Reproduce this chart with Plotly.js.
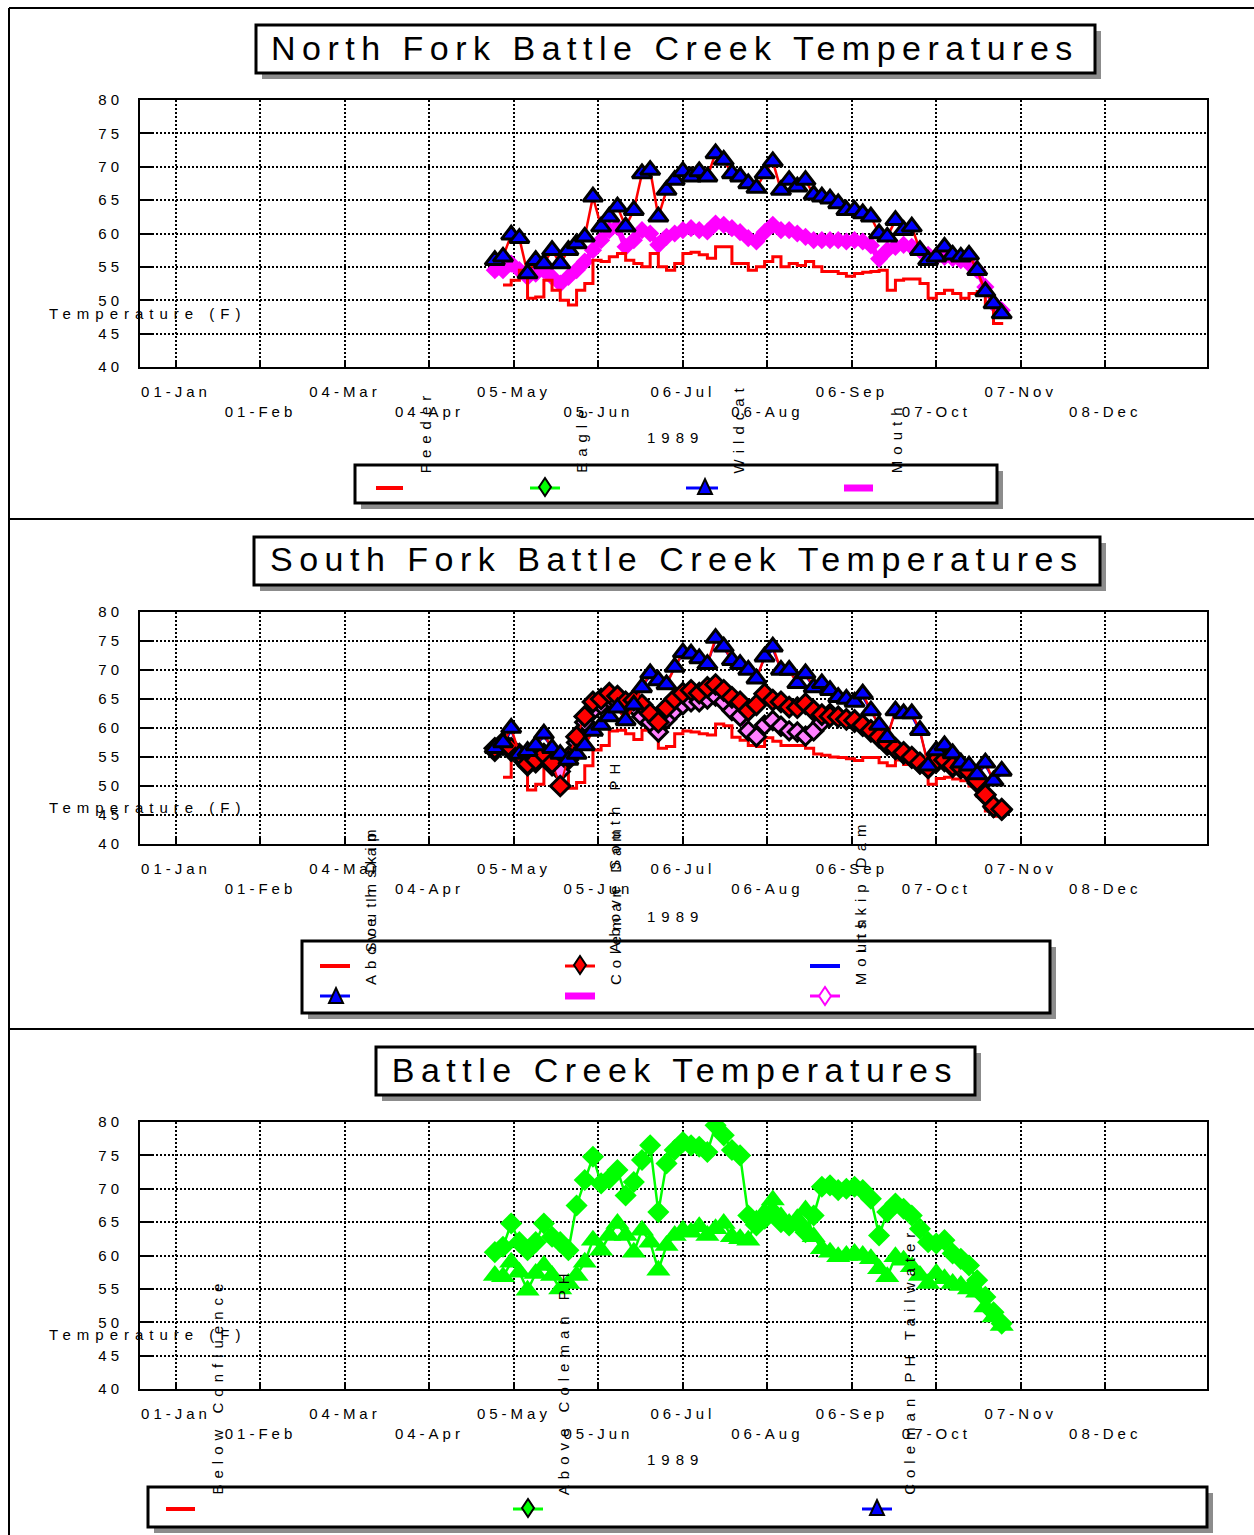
<!DOCTYPE html>
<html><head><meta charset="utf-8">
<script src="https://cdn.plot.ly/plotly-3.0.1.min.js"></script>
<style>html,body{margin:0;padding:0;background:#fff;}#chart{width:1254px;height:1535px;}</style>
</head><body><div id="chart"></div>
<script>
// ---------- DATA (1989, readings every 3 days) ----------
const dates = ["04-28","05-01","05-04","05-07","05-10","05-13","05-16","05-19","05-22","05-25","05-28","05-31",
"06-03","06-06","06-09","06-12","06-15","06-18","06-21","06-24","06-27","06-30","07-03","07-06","07-09","07-12",
"07-15","07-18","07-21","07-24","07-27","07-30","08-02","08-05","08-08","08-11","08-14","08-17","08-20","08-23",
"08-26","08-29","09-01","09-04","09-07","09-10","09-13","09-16","09-19","09-22","09-25","09-28","10-01","10-04",
"10-07","10-10","10-13","10-16","10-19","10-22","10-25","10-28","10-31"].map(d => "1989-" + d);

// North Fork
const nfFeeder = [null,52.3,53.0,54.5,50.3,50.5,53.0,51.5,50.0,49.3,51.5,52.5,56.0,55.8,56.5,57.0,56.0,55.5,55.0,57.0,55.0,54.5,55.5,57.0,57.2,56.8,56.3,58.0,58.0,55.5,55.5,54.5,55.0,55.8,56.5,55.0,55.5,55.2,55.8,55.0,54.3,54.3,54.0,53.6,54.0,54.2,54.3,54.5,51.5,53.0,53.2,53.2,52.5,50.3,51.0,51.5,51.0,50.3,51.0,51.3,49.2,46.5,46.3];
const nfEagle = [54.0,54.0,55.0,54.0,53.0,53.5,54.0,53.0,52.5,54.5,54.5,55.5,57.0,58.5,60.0,60.5,57.5,58.5,60.0,59.5,58.5,59.0,59.5,60.0,60.3,60.0,59.8,61.0,60.8,60.3,59.8,59.0,58.5,59.8,60.8,60.0,60.0,59.5,59.0,58.5,58.5,58.5,58.5,58.3,58.5,58.3,57.8,56.0,57.0,57.5,57.8,57.5,57.0,56.3,56.0,56.0,55.8,55.5,55.0,54.0,51.5,49.0,48.0];
const nfWildcat = [56.0,56.5,59.8,59.3,54.0,56.0,55.5,57.5,55.5,57.5,58.5,59.5,65.5,61.0,62.5,64.0,61.0,63.5,69.0,69.5,62.5,66.5,68.0,69.3,68.5,69.3,68.5,72.0,71.0,69.0,68.5,67.5,66.8,69.0,70.8,66.5,68.0,67.0,68.0,65.8,65.5,65.2,64.5,63.5,63.5,63.0,62.5,60.0,59.5,62.0,60.5,61.0,57.5,56.0,56.5,58.0,56.8,56.5,56.8,54.5,51.3,49.5,48.0];
const nfMouth = [54.5,54.5,55.5,54.5,53.5,54.0,54.5,53.5,52.5,53.5,54.5,55.8,57.5,59.0,60.5,61.0,58.0,59.0,60.5,60.0,58.3,59.5,60.0,60.5,60.8,60.5,60.3,61.5,61.3,60.8,60.2,59.3,58.8,60.2,61.3,60.5,60.5,60.0,59.5,59.0,59.0,59.0,59.0,58.8,59.0,58.8,58.2,56.2,57.5,58.0,58.3,58.0,57.5,56.8,56.5,56.5,56.3,56.0,55.5,54.5,52.0,49.5,48.5];

// South Fork
const sfAboveInskip = [null,51.5,54.5,54.6,49.3,50.3,53.0,52.3,52.0,49.6,50.6,53.5,56.2,57.0,59.5,59.6,59.0,58.0,59.6,59.8,56.5,56.8,59.0,59.5,59.3,59.0,58.8,60.7,60.4,58.4,57.9,57.0,56.8,58.3,57.7,57.0,57.0,57.0,56.5,55.5,55.3,55.0,54.9,54.7,54.4,54.9,54.9,54.0,53.5,54.5,53.7,53.5,53.3,50.3,51.3,51.5,51.2,50.9,50.0,48.2,45.7,44.8,44.6];
const sfColemanDam = [56.5,57.5,56.5,55.5,53.8,54.5,55.5,54.0,50.0,55.0,58.5,62.0,64.5,65.0,66.0,65.5,64.5,64.8,64.0,62.5,61.0,63.5,65.0,66.0,66.5,66.0,67.0,67.5,66.5,65.3,64.5,63.0,64.0,65.9,64.8,64.5,63.6,63.5,64.2,63.0,62.3,62.0,61.9,61.5,61.3,60.5,59.6,58.5,57.3,56.5,55.8,55.0,54.0,53.2,54.4,54.5,53.5,53.2,52.5,50.9,48.5,46.5,46.0];
const sfMouth = [56.0,57.0,59.5,55.8,56.3,57.0,58.5,56.5,55.8,54.8,55.8,57.3,59.8,60.8,62.0,63.3,61.5,64.3,67.0,69.0,68.0,67.8,70.3,72.8,72.5,71.8,71.0,75.0,73.8,71.5,70.8,69.8,68.8,72.0,73.5,70.0,69.8,68.0,69.0,67.0,67.5,66.3,65.3,64.8,64.5,65.3,62.8,60.5,58.8,62.8,62.3,62.0,59.3,54.0,56.0,56.8,55.5,54.0,53.5,52.0,53.5,51.0,52.0];
const sfSouthDam = [56.5,57.5,60.0,55.5,56.0,57.0,59.0,56.5,55.5,54.5,55.5,57.0,59.5,60.5,62.0,63.5,61.3,64.0,67.0,69.4,68.2,67.5,70.5,73.0,72.8,72.0,71.0,75.5,74.0,71.7,71.0,70.0,68.5,72.3,74.0,70.0,70.0,67.7,69.4,67.0,67.7,66.5,65.3,65.0,64.5,65.9,63.0,60.5,58.4,63.0,62.5,62.5,59.6,53.5,56.1,57.0,55.6,54.0,53.5,52.0,54.0,50.9,52.6];
const sfAboveSouthPH = [55.8,56.8,55.8,54.8,53.3,53.8,54.8,53.3,52.3,54.3,57.3,60.8,62.8,63.8,64.8,64.3,63.3,63.6,61.8,60.8,59.5,61.3,62.8,63.8,64.3,64.3,64.8,65.3,64.3,62.8,61.8,59.3,58.5,60.3,61.0,60.0,59.3,59.0,58.5,59.3,60.8,62.3,61.8,61.3,60.8,60.0,59.0,58.0,56.8,56.0,55.3,54.5,53.5,52.8,53.8,54.0,53.0,52.8,52.0,50.3,48.0,46.0,45.5];
const sfInskipDam = [56.0,57.0,56.0,55.0,53.5,54.0,55.0,53.5,52.5,54.5,57.5,61.0,63.0,64.0,65.0,64.5,63.5,63.8,62.0,61.0,59.3,61.5,63.0,64.0,64.5,64.5,65.0,65.5,64.5,63.0,62.0,59.5,58.5,60.5,61.3,60.3,59.5,59.3,58.6,59.5,61.0,62.5,62.0,61.5,61.0,60.3,59.3,58.3,57.0,56.3,55.5,54.8,53.8,53.0,54.0,54.2,53.2,53.0,52.3,50.5,48.3,46.3,45.8];

// Main stem
const bcAboveColemanPH = [60.5,61.3,64.8,62.0,60.8,62.0,64.8,62.8,62.0,60.8,67.5,71.3,74.8,70.8,71.5,72.8,69.0,71.0,74.3,76.5,66.5,73.8,75.8,77.0,76.5,76.3,75.5,79.5,78.0,75.8,75.0,66.0,64.5,65.5,66.5,65.0,64.5,65.0,63.5,66.0,70.3,70.5,69.8,70.0,70.3,69.8,68.5,63.0,66.5,67.8,67.0,66.0,64.0,62.0,61.8,62.3,60.3,59.5,58.5,56.3,53.8,51.5,49.8];
const bcTailwater = [57.0,56.8,59.0,57.5,54.8,57.3,58.5,57.0,55.0,55.8,57.0,59.0,62.3,60.8,63.0,64.8,63.0,60.5,63.8,62.0,57.8,61.5,63.0,63.8,63.5,64.3,63.0,64.0,64.8,62.8,62.5,62.3,65.3,66.5,68.3,65.8,64.8,65.5,66.8,62.8,61.0,60.5,59.8,60.0,60.3,60.0,59.5,58.0,56.8,59.8,59.3,58.3,57.0,55.8,57.3,56.5,55.8,55.5,55.0,54.5,52.3,50.8,49.5];

// Axis tick labels and texts
const tickDates = ["1989-01-01","1989-02-01","1989-03-04","1989-04-04","1989-05-05","1989-06-05","1989-07-06","1989-08-06","1989-09-06","1989-10-07","1989-11-07","1989-12-08"];
const tickLabels = ["01-Jan","01-Feb","04-Mar","04-Apr","05-May","05-Jun","06-Jul","06-Aug","06-Sep","07-Oct","07-Nov","08-Dec"];
const titles = ["North Fork Battle Creek Temperatures","South Fork Battle Creek Temperatures","Battle Creek Temperatures"];
const nfNames = ["Feeder","Eagle","Wildcat","Mouth"];
const sfNames = ["Above Inskip","South Dam","Coleman Dam","Above South PH","Mouth","Inskip Dam"];
const bcNames = ["Below Confluence","Above Coleman PH","Coleman PH Tailwater"];

// ---------- LAYOUT HELPERS ----------
const W = 1254, H = 1535;
const X = p => p / W, Y = p => 1 - p / H;
const FONT = "Liberation Sans, Arial, Helvetica, sans-serif";
const RED = "#ff0000", GREEN = "#00ff00", BLUE = "#0000ff", MAG = "#ff00ff";
const PL = 140, PR = 1207;
const panels = [{top:100,bottom:367},{top:612,bottom:844},{top:1122,bottom:1389}];

const layout = {
  width: W, height: H, margin: {l:0,r:0,t:0,b:0},
  paper_bgcolor: "#fff", plot_bgcolor: "#fff", showlegend: false,
  font: {family: FONT, color: "#000", size: 15},
  shapes: [], annotations: []
};
panels.forEach((p, i) => {
  const s = i === 0 ? "" : String(i + 1);
  layout["xaxis" + s] = {
    type: "date", range: ["1988-12-18 19:00", "1990-01-14 08:00"],
    domain: [X(PL), X(PR)], anchor: "y" + s,
    tickmode: "array", tickvals: tickDates,
    ticktext: tickLabels.map((t, k) => k % 2 ? "<br>" + t : t),
    tickfont: {family: FONT, size: 15, color: "#000"},
    ticks: "inside", ticklen: 6, tickwidth: 2, tickcolor: "#000",
    showgrid: true, gridcolor: "#000", gridwidth: 2, griddash: "2px,2px",
    showline: true, linecolor: "#000", linewidth: 2, mirror: true,
    zeroline: false, ticklabelstandoff: 10, fixedrange: true
  };
  layout["yaxis" + s] = {
    range: [40, 80], tick0: 40, dtick: 5,
    domain: [Y(p.bottom), Y(p.top)], anchor: "x" + s,
    tickfont: {family: FONT, size: 15, color: "#000"},
    ticks: "inside", ticklen: 12, tickwidth: 2, tickcolor: "#000",
    showgrid: true, gridcolor: "#000", gridwidth: 2, griddash: "2px,2px",
    showline: true, linecolor: "#000", linewidth: 2, mirror: true,
    zeroline: false, ticklabelstandoff: 12, fixedrange: true
  };
});

const shp = layout.shapes, ann = layout.annotations;
const line = (x0,y0,x1,y1,color,width) => shp.push({type:"line",xref:"paper",yref:"paper",x0:X(x0),y0:Y(y0),x1:X(x1),y1:Y(y1),line:{color,width}});
const rect = (x0,y0,x1,y1,fill,lc,lw) => shp.push({type:"rect",xref:"paper",yref:"paper",x0:X(x0),y0:Y(y0),x1:X(x1),y1:Y(y1),fillcolor:fill,line:{color:lc||fill,width:lw||0}});
const poly = (pts,fill,lc,lw) => shp.push({type:"path",xref:"paper",yref:"paper",path:"M "+pts.map(q=>X(q[0])+","+Y(q[1])).join(" L ")+" Z",fillcolor:fill,line:{color:lc,width:lw}});
const diamond = (cx,cy,fill,lc) => poly([[cx-6,cy],[cx,cy-9],[cx+6,cy],[cx,cy+9]],fill,lc,2);
const tri = (cx,cy) => poly([[cx-7,cy+7],[cx+7,cy+7],[cx,cy-8]],BLUE,"#000",2);
const boxShadow = (x0,y0,x1,y1) => { rect(x0+6,y0+6,x1+6,y1+6,"#8c8c8c"); rect(x0,y0,x1,y1,"#fff","#000",3); };
const text = (t,x,y,size,extra) => ann.push(Object.assign({text:t,xref:"paper",yref:"paper",x:X(x),y:Y(y),showarrow:false,xanchor:"center",yanchor:"middle",font:{family:FONT,size:size,color:"#000"}},extra||{}));

const cv = document.createElement("canvas").getContext("2d");
const textLen = (s, size, ls) => { cv.font = size + "px 'Liberation Sans', Arial"; return cv.measureText(s).width + ls * s.length; };
const vlabel = (t,x,bottom) => text(t, x, bottom - textLen(t,15,6)/2, 15, {textangle:-90});

// frame
line(9,8,1254,8,"#000",2); line(9,8,9,1535,"#000",2);
line(9,519,1254,519,"#000",2); line(9,1029,1254,1029,"#000",2);

// titles
boxShadow(256,25,1095,73); text(titles[0],675,48,34);
boxShadow(254,537,1100,585); text(titles[1],677,559,34);
boxShadow(376,1047,975,1095); text(titles[2],675,1070,34);

// axis captions
[[313,437],[807,916],[1334,1459]].forEach(a => { text("Temperature (F)",148,a[0],15); text("1989",675,a[1],15); });

// legend 1
boxShadow(355,465,997,503);
line(376,488,403,488,RED,4);
line(530,488,560,488,GREEN,3); diamond(545,487,GREEN,"#000");
line(686,488,718,488,BLUE,3); tri(705,487);
line(844,488,873,488,MAG,7);
[[425,0],[582,1],[738,2],[896,3]].forEach(a => vlabel(nfNames[a[1]],a[0],473));

// legend 2
boxShadow(302,941,1050,1013);
line(320,966,350,966,RED,4);
line(565,966,595,966,RED,3); diamond(580,965,RED,"#000");
line(810,966,840,966,BLUE,4);
line(320,996,350,996,BLUE,3); tri(336,996);
line(565,996,595,996,MAG,7);
line(810,996,840,996,MAG,3); diamond(825,996,"#fff",MAG);
vlabel(sfNames[0],370,985); vlabel(sfNames[1],370,953);
vlabel(sfNames[2],615,985); vlabel(sfNames[3],615,953);
vlabel(sfNames[4],860,985); vlabel(sfNames[5],860,953);

// legend 3
boxShadow(148,1487,1207,1527);
line(166,1509,195,1509,RED,4);
line(513,1509,543,1509,GREEN,3); diamond(528,1508,GREEN,"#000");
line(862,1509,892,1509,BLUE,3); tri(877,1508);
vlabel(bcNames[0],218,1495); vlabel(bcNames[1],563,1495); vlabel(bcNames[2],910,1495);

// ---------- TRACES ----------
const tr = (y, ax, o) => Object.assign({x: dates, y: y, xaxis: "x" + ax, yaxis: "y" + ax, type: "scatter", hoverinfo: "skip"}, o);
const triBlue = {symbol:"triangle-up", size:17, color:BLUE, line:{color:"#000", width:3}};
const data = [
  tr(nfEagle, "", {name:nfNames[1], mode:"lines", line:{color:GREEN, width:2}}),
  tr(nfMouth, "", {name:nfNames[3], mode:"lines+markers", line:{color:MAG, width:6}, marker:{symbol:"diamond", size:14, color:MAG, line:{width:0}}}),
  tr(nfFeeder, "", {name:nfNames[0], mode:"lines", line:{color:RED, width:3, shape:"hv"}}),
  tr(nfWildcat, "", {name:nfNames[2], mode:"lines+markers", line:{color:RED, width:2.5}, marker:triBlue}),

  tr(sfAboveSouthPH, "2", {name:sfNames[3], mode:"lines", line:{color:MAG, width:5}}),
  tr(sfMouth, "2", {name:sfNames[4], mode:"lines", line:{color:BLUE, width:2}}),
  tr(sfAboveInskip, "2", {name:sfNames[0], mode:"lines", line:{color:RED, width:3, shape:"hv"}}),
  tr(sfInskipDam, "2", {name:sfNames[5], mode:"lines+markers", line:{color:MAG, width:2}, marker:{symbol:"diamond", size:14, color:"#ff80ff", line:{color:"#000", width:3}}}),
  tr(sfColemanDam, "2", {name:sfNames[2], mode:"lines+markers", line:{color:RED, width:2}, marker:{symbol:"diamond", size:15, color:RED, line:{color:"#000", width:3}}}),
  tr(sfSouthDam, "2", {name:sfNames[1], mode:"lines+markers", line:{color:RED, width:2.5}, marker:triBlue}),

  tr(bcTailwater, "3", {name:bcNames[2], mode:"lines+markers", line:{color:GREEN, width:2.5}, marker:{symbol:"triangle-up", size:21, color:GREEN, line:{width:0}}}),
  tr(bcAboveColemanPH, "3", {name:bcNames[1], mode:"lines+markers", line:{color:GREEN, width:2.5}, marker:{symbol:"diamond", size:17, color:GREEN, line:{width:0}}})
];

Plotly.newPlot("chart", data, layout, {staticPlot: true, displayModeBar: false}).then(gd => {
  gd.querySelectorAll(".xtick text, .x2tick text, .x3tick text, .ytick text, .y2tick text, .y3tick text")
    .forEach(t => t.style.letterSpacing = "4px");
  gd.querySelectorAll(".annotation-text").forEach(t => {
    const fs = parseFloat(t.style.fontSize) || 15;
    t.style.letterSpacing = fs > 25 ? "6.5px" : "6px";
  });
});
</script></body></html>
